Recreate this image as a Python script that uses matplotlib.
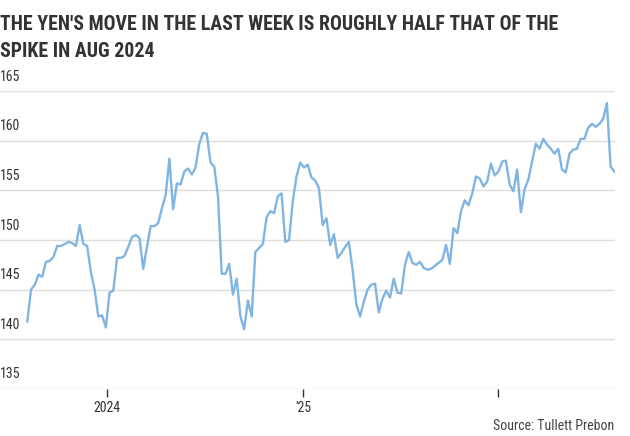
import matplotlib
matplotlib.use("Agg")
import matplotlib.pyplot as plt
from matplotlib import font_manager
import pandas as pd

# weekly USD/JPY readings
usdjpy = [
    141.8, 145.0, 145.5, 146.5, 146.3, 147.8, 147.9, 148.3, 149.4, 149.4,
    149.6, 149.8, 149.7, 149.4, 151.5, 149.6, 149.4, 146.8, 145.0, 142.3,
    142.4, 141.2, 144.7, 144.9, 148.2, 148.2, 148.4, 149.3, 150.3, 150.5,
    150.2, 147.1, 149.3, 151.4, 151.4, 151.7, 153.2, 154.5, 158.2, 153.1,
    155.7, 155.6,
    156.9, 157.2, 156.6, 157.3, 159.7, 160.8, 160.7, 157.8, 157.4, 154.4,
    146.6, 146.6, 147.6, 144.5, 146.1, 142.3, 141.0, 143.9, 142.3, 148.8,
    149.2, 149.6, 152.3, 152.9, 152.7, 154.4, 154.7, 149.8, 150.0, 153.9,
    156.4, 157.8, 157.3, 157.6, 156.3, 156.0, 155.2, 151.5, 152.2, 149.5,
    150.6, 148.2, 148.7, 149.3, 149.8, 147.0, 143.5, 142.3, 143.8, 145.0,
    145.5, 145.6, 142.7, 144.1, 144.9, 144.2, 146.1, 144.7, 144.6, 147.5,
    148.8, 147.7, 147.5, 147.8, 147.2, 147.0, 147.1, 147.4, 147.7, 148.0,
    149.5, 147.6, 151.2, 150.7, 152.9, 154.0, 153.5, 154.7, 156.4, 156.2,
    155.4, 155.9, 157.7, 156.5, 156.9, 157.9, 158.0, 155.6, 154.9, 157.1,
    152.8, 155.1, 156.1, 157.9, 159.7, 159.2, 160.2, 159.6, 159.2, 158.7,
    159.2, 157.1, 156.8, 158.7, 159.1, 159.2, 160.2, 160.2, 161.3, 161.7,
    161.4, 161.7, 162.2, 163.8, 157.4, 156.9,
]
weeks = pd.date_range("2023-08-04", periods=len(usdjpy), freq="7D")

y_ticks = [135, 140, 145, 150, 155, 160, 165]
x_ticks = [pd.Timestamp("2024-01-01"), pd.Timestamp("2025-01-01"), pd.Timestamp("2026-01-01")]
x_tick_labels = ["2024", "'25", ""]

title_lines = ["THE YEN'S MOVE IN THE LAST WEEK IS ROUGHLY HALF THAT OF THE",
               "SPIKE IN AUG 2024"]
source = "Source: Tullett Prebon"


def pick_font(bold):
    """look for a condensed face, the chart uses a narrow grotesque"""
    wanted = ["robotocondensed", "liberationsansnarrow", "notosans-condensed",
              "opensans_condensed", "opensanscondensed", "condensed", "narrow"]
    files = [f.fname for f in font_manager.fontManager.ttflist]
    for key in wanted:
        for fn in files:
            low = fn.lower().split("/")[-1].replace(" ", "")
            if key not in low or "extra" in low or "semi" in low or "italic" in low:
                continue
            if bold and "bold" in low:
                return font_manager.FontProperties(fname=fn)
            if not bold and "bold" not in low and "light" not in low and "thin" not in low \
                    and "medium" not in low and "black" not in low:
                return font_manager.FontProperties(fname=fn)
    return None


reg = pick_font(False)
bld = pick_font(True)
have_narrow = reg is not None and bld is not None
if not have_narrow:
    reg = font_manager.FontProperties(family="Roboto")
    bld = font_manager.FontProperties(family="Roboto", weight="bold")

fig = plt.figure(figsize=(6.3, 4.36), dpi=100)
ax = fig.add_axes([0.0, 0.108, 0.976, 0.683])

ax.plot(weeks, usdjpy, color="#80b5e3", linewidth=1.7)

ax.set_ylim(135, 165)
ax.set_xlim(weeks[0] - pd.Timedelta(weeks=7.3), weeks[-1] + pd.Timedelta(days=1))

for v in y_ticks:
    ax.axhline(v, color="#dedede", linewidth=1.0, zorder=0)
    ax.text(0.0, v + 0.75, str(v), transform=ax.get_yaxis_transform(),
            ha="left", va="bottom", fontproperties=reg, fontsize=10, color="#333333")

ax.set_yticks([])
ax.set_xticks(x_ticks)
ax.set_xticklabels(x_tick_labels, fontproperties=reg, fontsize=10, color="#333333")
ax.tick_params(axis="x", length=6, width=1, color="#333333", pad=3)

for s in ["top", "right", "left", "bottom"]:
    ax.spines[s].set_visible(False)

# two title lines placed on their own baselines
title_size = 14.3 if have_narrow else 12
fig.text(0.0, 1 - 30 / 436, title_lines[0], ha="left", va="baseline", fontproperties=bld,
         fontsize=title_size, color="#333333")
fig.text(0.0, 1 - 57 / 436, title_lines[1], ha="left", va="baseline", fontproperties=bld,
         fontsize=title_size, color="#333333")
fig.text(0.975, 0.006, source, ha="right", va="bottom", fontproperties=reg,
         fontsize=10, color="#444444")

fig.savefig("out.png", dpi=100)
